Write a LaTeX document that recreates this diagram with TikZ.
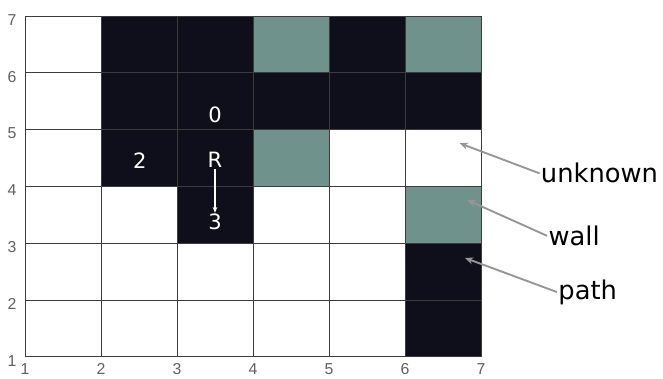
\documentclass[tikz,border=0pt]{standalone}
\usepackage{fontspec}
\setmainfont{Liberation Sans}
\newfontfamily\handfont{DejaVu Sans}
\usetikzlibrary{arrows.meta}
\definecolor{pathc}{RGB}{14,15,26}
\definecolor{wallc}{RGB}{112,146,140}
\definecolor{gridc}{RGB}{60,60,60}
\definecolor{tickc}{RGB}{95,95,95}
\definecolor{pointc}{RGB}{150,150,150}

\begin{document}
\begin{tikzpicture}[
    x=2.28cm, y=1.704cm,
    pathcell/.style={fill=pathc},
    wallcell/.style={fill=wallc},
    tick/.style={font=\fontsize{13.5}{13.5}\selectfont, text=tickc, inner sep=1pt},
    celltext/.style={font=\handfont\fontsize{18}{18}\selectfont, text=white, inner sep=1pt},
    legend/.style={font=\handfont\fontsize{22}{22}\selectfont, text=black, inner sep=1pt},
    pointer/.style={-{Stealth[length=7pt,width=6pt]}, line width=1.6pt, draw=pointc},
]
\useasboundingbox (0.671,0.613) rectangle (9.395,7.282);

% ── Cells ────────────────────────────────────────────────────
\foreach \x/\y in {2/6, 3/6, 5/6, 2/5, 3/5, 4/5, 5/5, 6/5, 2/4, 3/4, 3/3, 6/2, 6/1}
    \fill[pathcell] (\x,\y) rectangle ++(1,1);
\foreach \x/\y in {4/6, 6/6, 4/4, 6/3}
    \fill[wallcell] (\x,\y) rectangle ++(1,1);

% ── Grid ─────────────────────────────────────────────────────
\foreach \i in {1,...,7} {
    \draw[gridc, line width=0.7pt] (\i,1) -- (\i,7);
    \draw[gridc, line width=0.7pt] (1,\i) -- (7,\i);
}

% ── Axis numbers ─────────────────────────────────────────────
\foreach \i in {1,...,7} {
    \node[tick] (xt\i) at (\i,0.79) {\i};
    \node[tick] (yt\i) at (0.83,\i-0.07) {\i};
}

% ── Cell labels ──────────────────────────────────────────────
\node[celltext] (zero)  at (3.5,5.26) {0};
\node[celltext] (two)   at (2.51,4.46) {2};
\node[celltext] (robot) at (3.5,4.46) {R};
\node[celltext] (three) at (3.5,3.37) {3};
\draw[-{Stealth[length=5pt,width=4pt]}, draw=white, line width=1.1pt] (robot) -- (three);

% ── Legend ───────────────────────────────────────────────────
\node[legend, anchor=west] (unknown) at (7.77,4.23) {unknown};
\node[legend, anchor=west] (wall)    at (7.87,3.13) {wall};
\node[legend, anchor=west] (path)    at (8.00,2.14) {path};

\coordinate (unknownTip) at (6.72,4.76);
\coordinate (wallTip)    at (6.82,3.76);
\coordinate (pathTip)    at (6.79,2.74);

\draw[pointer] (unknown.west) -- (unknownTip);
\draw[pointer] (wall.west)    -- (wallTip);
\draw[pointer] (path.west)    -- (pathTip);

\end{tikzpicture}
\end{document}
